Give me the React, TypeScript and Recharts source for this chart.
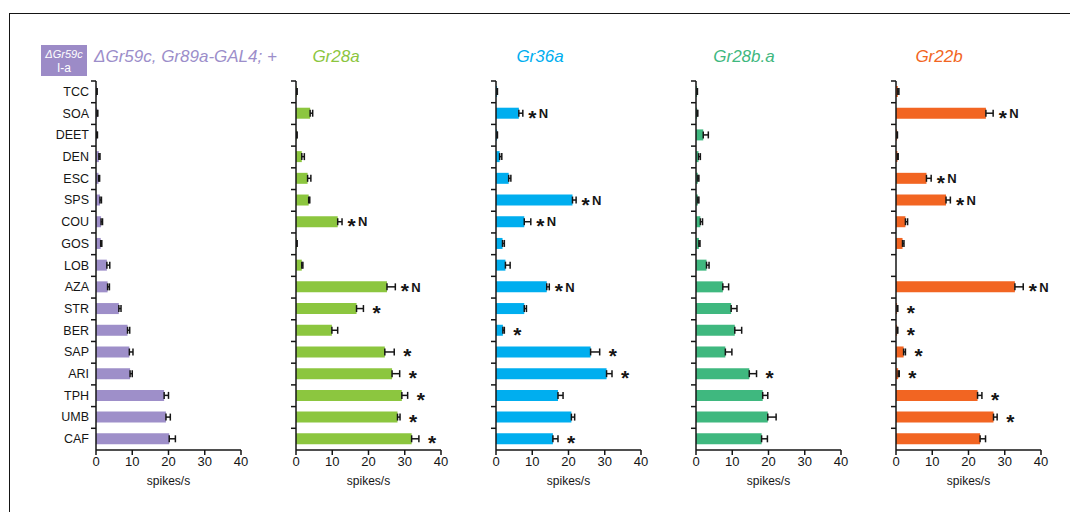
import React from 'react';
import { BarChart, Bar, XAxis, YAxis, ErrorBar, LabelList } from 'recharts';

const odorants = ['TCC', 'SOA', 'DEET', 'DEN', 'ESC', 'SPS', 'COU', 'GOS', 'LOB', 'AZA', 'STR', 'BER', 'SAP', 'ARI', 'TPH', 'UMB', 'CAF'];
const xTicks = [0, 10, 20, 30, 40];

// ΔGr59c, Gr89a-GAL4; + (I-a control)
const controlMean = [0.2, 0.3, 0.2, 0.8, 0.7, 1.1, 1.4, 1.3, 3.0, 3.2, 6.3, 8.7, 9.2, 9.4, 18.8, 19.3, 20.2];
const controlSem = [0.1, 0.2, 0.2, 0.3, 0.3, 0.4, 0.4, 0.3, 0.8, 0.5, 0.6, 0.6, 1.0, 0.6, 1.2, 1.2, 1.7];
const controlSig = ['', '', '', '', '', '', '', '', '', '', '', '', '', '', '', '', ''];

// Gr28a rescue
const gr28aMean = [0.2, 3.9, 0.2, 1.6, 3.2, 3.5, 11.5, 0.2, 1.6, 25.1, 16.7, 9.9, 24.5, 26.5, 29.2, 28.0, 31.9];
const gr28aSem = [0.1, 0.7, 0.1, 0.7, 0.9, 0.3, 1.2, 0.1, 0.3, 2.3, 1.9, 1.6, 2.6, 2.1, 1.6, 0.7, 2.0];
const gr28aSig = ['', '', '', '', '', '', '*N', '', '', '*N', '*', '', '*', '*', '*', '*', '*'];

// Gr36a rescue
const gr36aMean = [0.3, 6.3, 0.3, 1.0, 3.5, 21.1, 7.8, 1.8, 2.6, 14.0, 7.8, 1.9, 26.1, 30.5, 17.1, 20.8, 15.7];
const gr36aSem = [0.1, 1.1, 0.1, 0.6, 0.6, 1.0, 1.8, 0.5, 1.3, 0.7, 0.6, 0.4, 2.5, 1.5, 1.4, 0.9, 1.4];
const gr36aSig = ['', '*N', '', '', '', '*N', '*N', '', '', '*N', '', '*', '*', '*', '', '', '*'];

// Gr28b.a rescue
const gr28baMean = [0.3, 0.3, 2.0, 0.7, 0.5, 0.5, 1.2, 0.8, 2.9, 7.4, 9.7, 10.7, 8.1, 14.7, 18.4, 19.8, 18.1];
const gr28baSem = [0.1, 0.2, 1.4, 0.5, 0.3, 0.3, 0.6, 0.3, 0.7, 1.6, 1.6, 1.9, 1.8, 2.0, 1.4, 2.3, 1.6];
const gr28baSig = ['', '', '', '', '', '', '', '', '', '', '', '', '', '*', '', '', ''];

// Gr22b rescue
const gr22bMean = [0.5, 24.8, 0.3, 0.4, 8.4, 13.8, 2.6, 1.8, 0, 32.8, 0.3, 0.3, 2.1, 0.6, 22.5, 26.9, 23.2];
const gr22bSem = [0.3, 2.0, 0.1, 0.2, 1.3, 1.2, 0.6, 0.4, 0, 2.3, 0.2, 0.2, 0.5, 0.3, 1.2, 1.0, 1.5];
const gr22bSig = ['', '*N', '', '', '*N', '*N', '', '', '', '*N', '*', '*', '*', '*', '*', '*', ''];

const FONT = "'Liberation Sans', Arial, Helvetica, sans-serif";
const INK = '#151515';

const CHART_W = 240;
const CHART_H = 420;
const MARGIN = { top: 11, right: 15, bottom: 0, left: 0 };
const Y_AXIS_W = 80;
const X_AXIS_H = 40;
const PLOT_LEFT = MARGIN.left + Y_AXIS_W;
const PLOT_W = CHART_W - MARGIN.left - MARGIN.right - Y_AXIS_W;
const PLOT_H = CHART_H - MARGIN.top - MARGIN.bottom - X_AXIS_H;
const BAND = PLOT_H / odorants.length;
const PX_PER_UNIT = PLOT_W / 40;

const panels = [
  { key: 'ctrl', title: null, color: '#9e8fc9', mean: controlMean, sem: controlSem, sig: controlSig, titleX: 0 },
  { key: 'gr28a', title: 'Gr28a', color: '#8cc63f', mean: gr28aMean, sem: gr28aSem, sig: gr28aSig, titleX: 336 },
  { key: 'gr36a', title: 'Gr36a', color: '#00aeef', mean: gr36aMean, sem: gr36aSem, sig: gr36aSig, titleX: 540 },
  { key: 'gr28ba', title: 'Gr28b.a', color: '#3fb87f', mean: gr28baMean, sem: gr28baSem, sig: gr28baSig, titleX: 744 },
  { key: 'gr22b', title: 'Gr22b', color: '#f26522', mean: gr22bMean, sem: gr22bSem, sig: gr22bSig, titleX: 939 },
];

// category tick: label (first panel only) plus a short tick on the band boundary
const OdorTick = (props: any) => {
  const { x, y, payload, showLabel } = props;
  const top = y - BAND / 2;
  return (
    <g>
      <line x1={x - 5} y1={top} x2={x} y2={top} stroke={INK} strokeWidth={1.5} />
      {showLabel && (
        <text x={x - 7} y={y} textAnchor="end" dominantBaseline="central" fontSize={12.5} fill={INK} fontFamily={FONT}>
          {payload.value}
        </text>
      )}
    </g>
  );
};

// significance marks sit just past the end of the error bar;
// the row is found from the bar's y, since zero-length bars get no label entry
const sigLabel = (mean: number[], sem: number[]) => (props: any) => {
  const { y, height, value } = props;
  if (!value) return null;
  const cy = Number(y) + Number(height) / 2;
  const row = Math.min(odorants.length - 1, Math.max(0, Math.floor((cy - MARGIN.top) / BAND)));
  const end = PLOT_LEFT + (mean[row] + sem[row]) * PX_PER_UNIT;
  const sx = end + (value === '*' ? 9 : 5.5);
  return (
    <g fontFamily={FONT} fontWeight="bold" fill={INK}>
      <text x={sx} y={cy + 11.5} fontSize={21}>*</text>
      {value.includes('N') && (
        <text x={sx + 10.5} y={cy + 4.7} fontSize={13}>N</text>
      )}
    </g>
  );
};

const Panel = ({ panel, index }: { panel: any; index: number }) => {
  const rows = odorants.map((odor, i) => ({
    odor,
    mean: panel.mean[i],
    err: [0, panel.sem[i]],
    sig: panel.sig[i],
  }));
  return (
    <div style={{ position: 'absolute', left: 16 + 200 * index, top: 70 }}>
      <BarChart
        width={CHART_W}
        height={CHART_H}
        data={rows}
        layout="vertical"
        margin={MARGIN}
        style={{ overflow: 'visible' }}
      >
        <XAxis
          type="number"
          domain={[0, 40]}
          ticks={xTicks}
          height={X_AXIS_H}
          tickSize={5}
          tick={{ fill: INK, fontSize: 13, fontFamily: FONT }}
          tickLine={{ stroke: INK, strokeWidth: 1.5 }}
          axisLine={{ stroke: INK, strokeWidth: 1.5 }}
          label={{ value: 'spikes/s', position: 'insideBottom', offset: 5, fill: INK, fontSize: 12, fontFamily: FONT }}
        />
        <YAxis
          type="category"
          dataKey="odor"
          width={Y_AXIS_W}
          tickLine={false}
          tickSize={0}
          tickMargin={0}
          interval={0}
          axisLine={{ stroke: INK, strokeWidth: 1.5 }}
          tick={<OdorTick showLabel={index === 0} />}
        />
        <Bar dataKey="mean" fill={panel.color} barSize={11} isAnimationActive={false}>
          <ErrorBar dataKey="err" direction="x" width={3.5} stroke={INK} strokeWidth={1.5} />
          <LabelList dataKey="sig" content={sigLabel(panel.mean, panel.sem)} />
        </Bar>
      </BarChart>
    </div>
  );
};

export default function App() {
  return (
    <div
      style={{
        position: 'absolute',
        left: 0,
        top: 0,
        width: 1070,
        height: 512,
        overflow: 'hidden',
        background: '#fff',
        fontFamily: FONT,
      }}
    >
      <div
        style={{
          position: 'absolute',
          left: 9,
          top: 13,
          width: 1200,
          height: 700,
          borderTop: `1.5px solid ${INK}`,
          borderLeft: `1.5px solid ${INK}`,
        }}
      />
      <div
        style={{
          position: 'absolute',
          left: 41,
          top: 45,
          width: 46,
          height: 31,
          background: '#9c8bc7',
          color: '#fff',
          textAlign: 'center',
          lineHeight: '14px',
          paddingTop: 2,
          boxSizing: 'border-box',
        }}
      >
        <div style={{ fontSize: 11, fontStyle: 'italic' }}>ΔGr59c</div>
        <div style={{ fontSize: 12 }}>I-a</div>
      </div>
      <div
        style={{
          position: 'absolute',
          left: 94,
          top: 47,
          lineHeight: '20px',
          fontSize: 17,
          fontStyle: 'italic',
          color: '#9c8eca',
          whiteSpace: 'nowrap',
        }}
      >
        ΔGr59c, Gr89a-GAL4; +
      </div>
      {panels.map((p) =>
        p.title ? (
          <div
            key={`t-${p.key}`}
            style={{
              position: 'absolute',
              left: p.titleX - 60,
              width: 120,
              top: 47,
              lineHeight: '20px',
              textAlign: 'center',
              fontSize: 17,
              fontStyle: 'italic',
              color: p.color,
            }}
          >
            {p.title}
          </div>
        ) : null
      )}
      {panels.map((p, i) => (
        <Panel key={p.key} panel={p} index={i} />
      ))}
    </div>
  );
}
